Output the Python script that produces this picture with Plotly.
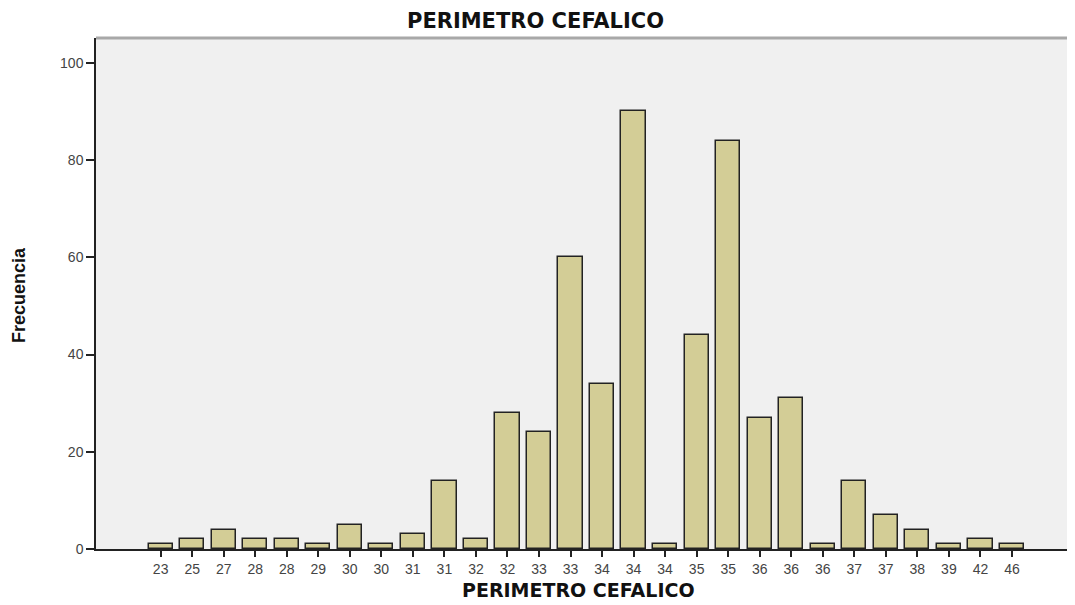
import plotly.graph_objects as go

labels = ["23", "25", "27", "28", "28", "29", "30", "30", "31", "31", "32", "32", "33", "33",
          "34", "34", "34", "35", "35", "36", "36", "36", "37", "37", "38", "39", "42", "46"]
frecuencia = [1, 2, 4, 2, 2, 1, 5, 1, 3, 14, 2, 28, 24, 60, 34, 90, 1, 44, 84, 27, 31, 1,
              14, 7, 4, 1, 2, 1]
y_ticks = [0, 20, 40, 60, 80, 100]

idx = list(range(len(labels)))

# page body has an 8px default margin; lay the figure out in page coordinates minus 8
OFF = 8
W, H = 1075 - OFF, 605 - OFF
ml, mr, mt = 96 - OFF, 0, 38 - OFF
plot_bottom = 549 - OFF
mb = H - plot_bottom
ph = H - mt - mb
pw = W - ml - mr


def px(xp):
    return (xp - OFF - ml) / pw


def py(yp):
    return (plot_bottom - (yp - OFF)) / ph


fig = go.Figure()
fig.add_trace(go.Bar(
    x=idx, y=frecuencia, width=0.77,
    marker=dict(color="#d3cd96", line=dict(color="#222222", width=1.5)),
    hoverinfo="x+y",
))

fig.update_layout(
    width=W, height=H,
    margin=dict(l=ml, r=mr, t=mt, b=mb),
    paper_bgcolor="white",
    plot_bgcolor="#f0f0f0",
    showlegend=False,
    bargap=0,
    font=dict(family="Liberation Sans, Arial, sans-serif", size=13, color="#444444"),
    xaxis=dict(
        range=[-2.05, 29.0],
        tickmode="array", tickvals=idx, ticktext=labels,
        ticks="outside", ticklen=6, tickwidth=1.5, tickcolor="#222222",
        showline=True, linecolor="#222222", linewidth=1.5,
        showgrid=False, zeroline=False,
        tickfont=dict(size=14, color="#444444"),
    ),
    yaxis=dict(
        range=[0, 105.1],
        tickmode="array", tickvals=y_ticks,
        ticks="outside", ticklen=8, tickwidth=1.5, tickcolor="#222222",
        showline=True, linecolor="#222222", linewidth=1.5,
        showgrid=False, zeroline=False,
        tickfont=dict(size=14, color="#444444"),
    ),
    shapes=[dict(type="line", xref="paper", yref="paper", x0=0, x1=1, y0=1, y1=1,
                 line=dict(color="#a8a8a8", width=3))],
    annotations=[
        dict(text="<b>PERIMETRO CEFALICO</b>", xref="paper", yref="paper",
             x=px(535), y=py(21),
             xanchor="center", yanchor="middle", showarrow=False,
             font=dict(family="DejaVu Sans, sans-serif", size=21, color="#111111")),
        dict(text="<b>PERIMETRO CEFALICO</b>", xref="paper", yref="paper",
             x=px(578), y=py(590),
             xanchor="center", yanchor="middle", showarrow=False,
             font=dict(family="DejaVu Sans, sans-serif", size=19, color="#111111")),
        dict(text="<b>Frecuencia</b>", xref="paper", yref="paper",
             x=px(19), y=py(295),
             xanchor="center", yanchor="middle", showarrow=False, textangle=-90,
             font=dict(family="Liberation Sans Narrow, Arial Narrow, sans-serif", size=18, color="#111111")),
    ],
)

fig.write_html("out.html")
